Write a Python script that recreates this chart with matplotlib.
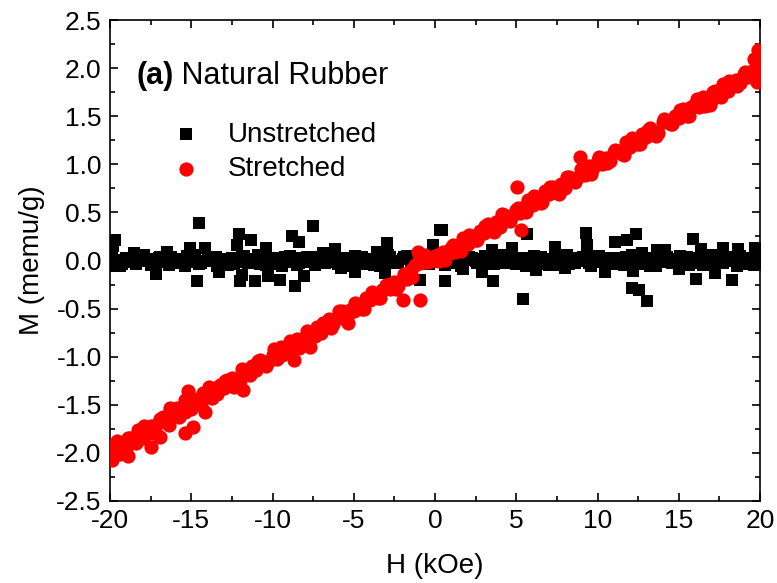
import matplotlib
matplotlib.use("Agg")
import matplotlib.pyplot as plt
from matplotlib.ticker import MultipleLocator, FormatStrFormatter

plt.rcParams['font.family'] = ['Liberation Sans', 'DejaVu Sans']

# ---------------- data ----------------
# Field grid of the first sweep (kOe)
sweep_H = [
    -20.00, -19.75, -19.50, -19.25, -19.00, -18.75, -18.50, -18.25, -18.00, -17.75,
    -17.50, -17.25, -17.00, -16.75, -16.50, -16.25, -16.00, -15.75, -15.50, -15.25,
    -15.00, -14.75, -14.50, -14.25, -14.00, -13.75, -13.50, -13.25, -13.00, -12.75,
    -12.50, -12.25, -12.00, -11.75, -11.50, -11.25, -11.00, -10.75, -10.50, -10.25,
    -10.00, -9.75, -9.50, -9.25, -9.00, -8.75, -8.50, -8.25, -8.00, -7.75,
    -7.50, -7.25, -7.00, -6.75, -6.50, -6.25, -6.00, -5.75, -5.50, -5.25,
    -5.00, -4.75, -4.50, -4.25, -4.00, -3.75, -3.50, -3.25, -3.00, -2.75,
    -2.50, -2.25, -2.00, -1.75, -1.50, -1.25, -1.00, -0.75, -0.50, -0.25,
    0.00, 0.25, 0.50, 0.75, 1.00, 1.25, 1.50, 1.75, 2.00, 2.25,
    2.50, 2.75, 3.00, 3.25, 3.50, 3.75, 4.00, 4.25, 4.50, 4.75,
    5.00, 5.25, 5.50, 5.75, 6.00, 6.25, 6.50, 6.75, 7.00, 7.25,
    7.50, 7.75, 8.00, 8.25, 8.50, 8.75, 9.00, 9.25, 9.50, 9.75,
    10.00, 10.25, 10.50, 10.75, 11.00, 11.25, 11.50, 11.75, 12.00, 12.25,
    12.50, 12.75, 13.00, 13.25, 13.50, 13.75, 14.00, 14.25, 14.50, 14.75,
    15.00, 15.25, 15.50, 15.75, 16.00, 16.25, 16.50, 16.75, 17.00, 17.25,
    17.50, 17.75, 18.00, 18.25, 18.50, 18.75, 19.00, 19.25, 19.50, 19.75,
    20.00,
]

# Field grid of the return sweep (kOe)
return_H = [
    -19.9, -19.4, -18.9, -18.4, -17.9, -17.4, -16.9, -16.4, -15.9, -15.4,
    -14.9, -14.4, -13.9, -13.4, -12.9, -12.4, -11.9, -11.4, -10.9, -10.4,
    -9.9, -9.4, -8.9, -8.4, -7.9, -7.4, -6.9, -6.4, -5.9, -5.4,
    -4.9, -4.4, -3.9, -3.4, -2.9, -2.4, -1.9, -1.4, -0.9, -0.4,
    0.1, 0.6, 1.1, 1.6, 2.1, 2.6, 3.1, 3.6, 4.1, 4.6,
    5.1, 5.6, 6.1, 6.6, 7.1, 7.6, 8.1, 8.6, 9.1, 9.6,
    10.1, 10.6, 11.1, 11.6, 12.1, 12.6, 13.1, 13.6, 14.1, 14.6,
    15.1, 15.6, 16.1, 16.6, 17.1, 17.6, 18.1, 18.6, 19.1, 19.6,
]

stretched_sweep_M = [
    -2.00, -1.92, -1.98, -1.90, -1.95, -1.84, -1.87, -1.76, -1.84, -1.77,
    -1.72, -1.76, -1.68, -1.63, -1.68, -1.63, -1.56, -1.63, -1.53, -1.54,
    -1.54, -1.45, -1.47, -1.38, -1.41, -1.43, -1.33, -1.29, -1.33, -1.26,
    -1.22, -1.25, -1.25, -1.14, -1.15, -1.10, -1.14, -1.03, -1.06, -1.06,
    -0.98, -1.02, -0.90, -0.95, -0.89, -0.93, -0.82, -0.83, -0.83, -0.74,
    -0.77, -0.69, -0.75, -0.66, -0.61, -0.66, -0.60, -0.53, -0.59, -0.51,
    -0.53, -0.46, -0.50, -0.39, -0.41, -0.35, -0.39, -0.31, -0.25, -0.30,
    -0.22, -0.27, -0.18, -0.19, -0.10, -0.05, 0.00, -0.02, -0.02, -0.01,
    0.02, -0.01, 0.09, 0.06, 0.13, 0.09, 0.16, 0.23, 0.17, 0.25,
    0.21, 0.31, 0.29, 0.38, 0.32, 0.40, 0.35, 0.47, 0.45, 0.46,
    0.53, 0.49, 0.56, 0.63, 0.58, 0.65, 0.60, 0.72, 0.69, 0.76,
    0.72, 0.80, 0.75, 0.87, 0.85, 0.86, 0.95, 0.89, 0.98, 0.96,
    1.04, 1.00, 1.07, 1.03, 1.13, 1.14, 1.11, 1.23, 1.18, 1.25,
    1.21, 1.31, 1.28, 1.38, 1.34, 1.33, 1.44, 1.44, 1.42, 1.50,
    1.48, 1.57, 1.50, 1.60, 1.63, 1.60, 1.70, 1.67, 1.66, 1.76,
    1.73, 1.83, 1.76, 1.84, 1.88, 1.85, 1.94, 1.91, 1.97, 1.94,
    2.02,
]

stretched_return_M = [
    -1.93, -2.01, -1.84, -1.90, -1.72, -1.79, -1.65, -1.71, -1.53, -1.58,
    -1.44, -1.50, -1.32, -1.39, -1.25, -1.31, -1.13, -1.19, -1.04, -1.10,
    -0.92, -0.98, -0.84, -0.91, -0.73, -0.79, -0.65, -0.70, -0.52, -0.59,
    -0.44, -0.50, -0.33, -0.39, -0.25, -0.30, -0.14, -0.17, -0.03, -0.01,
    0.06, 0.01, 0.16, 0.10, 0.27, 0.21, 0.36, 0.30, 0.48, 0.41,
    0.55, 0.50, 0.67, 0.61, 0.76, 0.69, 0.87, 0.82, 0.96, 0.90,
    1.08, 1.01, 1.15, 1.10, 1.27, 1.21, 1.36, 1.29, 1.47, 1.42,
    1.56, 1.50, 1.68, 1.61, 1.75, 1.70, 1.87, 1.81, 1.96, 1.92,
]

stretched_extra_H = [-19.9, -19.6, -18.9, -17.5, -16.9, -16.3, -15.4, -15.2, -15.4, -14.9,
                     -14.15, -12.8, -11.8, -8.7, -7.7, -5.35, -2.0, -0.9, -1.05, -0.6,
                     5.05, 5.3, 8.9, 16.9, 19.8, 19.9, 19.6, 19.9]
stretched_extra_M = [-2.07, -1.88, -2.03, -1.94, -1.83, -1.53, -1.45, -1.36, -1.79, -1.73,
                     -1.57, -1.24, -1.35, -1.03, -0.90, -0.65, -0.41, -0.41, 0.09, 0.06,
                     0.76, 0.32, 1.08, 1.62, 1.86, 2.19, 2.09, 1.98]

unstretched_sweep_M = [
    0.02, -0.03, 0.01, -0.04, 0.03, 0.00, -0.02, 0.04, -0.01, 0.02,
    -0.05, 0.01, 0.03, -0.02, 0.00, 0.04, -0.03, 0.01, -0.01, 0.05,
    -0.02, 0.03, -0.04, 0.00, 0.02, -0.01, 0.04, -0.03, 0.01, -0.05,
    0.03, 0.00, -0.02, 0.05, -0.03, 0.01, 0.02, -0.04, 0.00, 0.03,
    -0.01, -0.04, 0.02, 0.04, -0.02, 0.01, -0.05, 0.03, 0.00, -0.02,
    0.04, -0.01, 0.02, -0.03, 0.05, 0.00, -0.04, 0.02, -0.01, 0.03,
    -0.03, 0.01, 0.04, -0.02, 0.00, -0.05, 0.03, 0.01, -0.02, 0.04,
    0.00, -0.03, 0.02, 0.05, -0.01, 0.03, -0.04, 0.01, 0.00, -0.02,
    0.03, -0.02, 0.01, 0.04, -0.03, 0.00, 0.02, -0.05, 0.01, 0.03,
    -0.01, 0.02, -0.04, 0.03, 0.00, -0.02, 0.05, -0.03, 0.01, 0.02,
    -0.04, 0.00, 0.03, -0.01, 0.02, -0.03, 0.04, 0.01, -0.05, 0.02,
    0.01, -0.02, 0.04, -0.04, 0.00, 0.03, -0.01, 0.02, -0.03, 0.05,
    -0.02, 0.01, 0.00, 0.03, -0.04, 0.02, -0.01, 0.04, -0.02, 0.00,
    0.05, 0.08, 0.03, -0.06, -0.03, 0.02, -0.02, 0.04, 0.01, -0.03,
    0.02, -0.01, 0.04, 0.00, -0.03, 0.03, -0.05, 0.01, 0.02, -0.02,
    0.04, -0.03, 0.00, 0.02, -0.01, 0.05, -0.04, 0.01, 0.03, -0.02,
    0.01,
]

unstretched_return_M = [
    0.05, -0.06, 0.03, -0.04, 0.06, -0.02, 0.04, -0.05, 0.02, -0.06,
    0.06, -0.03, 0.04, -0.06, 0.02, -0.04, 0.05, -0.02, 0.06, -0.05,
    0.03, -0.06, 0.05, -0.03, 0.04, -0.05, 0.06, -0.02, 0.03, -0.06,
    0.05, -0.04, 0.02, -0.06, 0.06, -0.03, 0.04, -0.05, 0.03, -0.04,
    0.06, -0.05, 0.02, -0.06, 0.04, -0.03, 0.05, -0.04, 0.06, -0.02,
    0.03, -0.06, 0.05, -0.04, 0.02, -0.05, 0.06, -0.03, 0.04, -0.06,
    0.05, -0.02, 0.03, -0.05, 0.06, -0.04, 0.02, -0.06, 0.04, -0.03,
    0.05, -0.05, 0.03, -0.04, 0.06, -0.02, 0.04, -0.06, 0.02, -0.05,
]

unstretched_extra_H = [-19.7, -19.8, -14.5, -12.04, -11.3, -7.49, -8.8, -8.4, -10.4, -12.2,
                       -15.1, -14.15, -6.15, -2.97, 0.3, -17.2, -14.67, -13.27, -12.0, -11.9,
                       -11.1, -10.3, -9.54, -8.6, -8.06, -4.9, -3.08, -0.92, 0.41, -0.1,
                       0.62, 3.59, 5.4, 5.64, 9.29, 11.08, 9.33, 7.38, 4.72, 3.49,
                       11.8, 12.37, 12.1, 12.57, 13.03, 12.17, 15.9, 16.35, 17.74, 18.67,
                       19.7, 16.06, 17.23, 18.26, 2.87, 1.74, 10.46, 6.2, 8.0, 15.03,
                       13.64, 14.15, 19.9, -19.9, -16.5, -18.5, -6.9, -3.6, 1.2, -5.8]
unstretched_extra_M = [0.21, 0.15, 0.39, 0.28, 0.21, 0.36, 0.25, 0.19, 0.13, 0.16,
                       0.13, 0.13, 0.12, 0.18, 0.32, -0.14, -0.21, -0.12, -0.21, -0.15,
                       -0.21, -0.16, -0.20, -0.26, -0.16, -0.12, -0.13, -0.20, 0.32, 0.16,
                       -0.21, -0.21, -0.40, 0.28, 0.29, 0.19, 0.16, 0.14, 0.13, 0.11,
                       0.21, 0.28, -0.29, -0.31, -0.42, -0.11, 0.22, 0.12, 0.13, 0.12,
                       0.13, -0.19, -0.13, -0.20, -0.12, -0.09, -0.12, -0.10, -0.08, -0.09,
                       0.11, 0.11, -0.05, -0.06, 0.09, 0.08, 0.08, 0.09, 0.10, -0.08]

unstretched_H = sweep_H + return_H + unstretched_extra_H
unstretched_M = unstretched_sweep_M + unstretched_return_M + unstretched_extra_M
stretched_H = sweep_H + return_H + stretched_extra_H
stretched_M = stretched_sweep_M + stretched_return_M + stretched_extra_M

# ---------------- figure ----------------
fig = plt.figure(figsize=(7.77, 5.83), dpi=100)
ax = fig.add_axes([110 / 777, 1 - 501 / 583, 650 / 777, 481 / 583])

ax.scatter(unstretched_H, unstretched_M, marker='s', s=66, color='black',
           linewidths=0, label='Unstretched', zorder=2, clip_on=True)
ax.scatter(stretched_H, stretched_M, marker='o', s=105, color='red',
           linewidths=0, label='Stretched', zorder=3, clip_on=True)

ax.set_xlim(-20, 20)
ax.set_ylim(-2.5, 2.5)
ax.xaxis.set_major_locator(MultipleLocator(5))
ax.xaxis.set_minor_locator(MultipleLocator(2.5))
ax.yaxis.set_major_locator(MultipleLocator(0.5))
ax.yaxis.set_minor_locator(MultipleLocator(0.25))
ax.yaxis.set_major_formatter(FormatStrFormatter('%.1f'))
ax.xaxis.set_major_formatter(FormatStrFormatter('%d'))

ax.tick_params(which='both', direction='in', top=True, right=True,
               labelsize=19, width=1.2, colors='black')
ax.tick_params(which='major', length=6, pad=6)
ax.tick_params(which='minor', length=3.5)
for sp in ax.spines.values():
    sp.set_linewidth(1.2)

ax.set_xlabel('H (kOe)', fontsize=20, labelpad=14)
ax.set_ylabel('M (memu/g)', fontsize=20, labelpad=8)

t = ax.text(0.04, 0.883, '(a)', transform=ax.transAxes, fontsize=22,
            fontweight='bold', va='center', ha='left')
ax.annotate(' Natural Rubber', xy=(1, 0.5), xycoords=t, fontsize=22,
            va='center', ha='left')

leg = ax.legend(loc='upper left', bbox_to_anchor=(0.074, 0.812), frameon=False,
                fontsize=20, handletextpad=0.9, labelspacing=0.3,
                handlelength=1.2, markerscale=1.0, borderaxespad=0)

fig.savefig('out.png', dpi=100)
